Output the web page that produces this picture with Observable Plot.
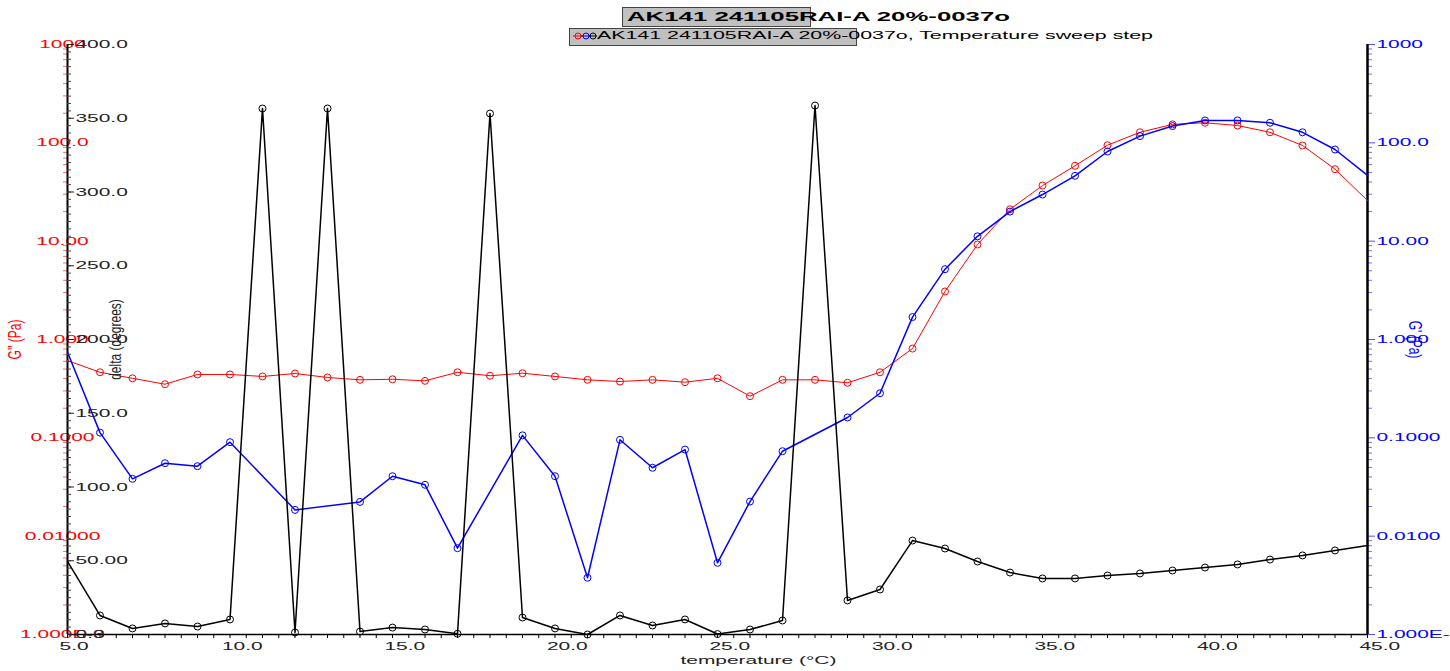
<!DOCTYPE html>
<html><head><meta charset="utf-8">
<script src="https://cdn.jsdelivr.net/npm/d3@7"></script>
<script src="https://cdn.jsdelivr.net/npm/@observablehq/plot@0.6"></script>
<style>
html,body{margin:0;padding:0;background:#fff;overflow:hidden;}
body{width:1450px;height:671px;font-family:"Liberation Sans",Arial,sans-serif;}
#header{position:relative;height:36px;z-index:2;}
#chart{position:relative;width:1450px;height:635px;}
#chart svg{position:absolute;left:0;top:0;}
.box{position:absolute;background:#c0c0c0;border:1px solid #444;box-sizing:border-box;}
.stretch{position:absolute;white-space:nowrap;transform-origin:0 50%;line-height:1;color:#000;}
</style></head>
<body>
<div id="header">
  <div class="box" style="left:622px;top:7px;width:189px;height:20px"></div>
  <div class="box" style="left:569px;top:28px;width:288px;height:18px"></div>
  <div id="title" class="stretch" style="left:627px;top:11px;font-weight:bold;font-size:12px">AK141 241105RAI-A 20%-0037o</div>
  <svg style="position:absolute;left:572px;top:29px" width="26" height="14">
    <line x1="1" x2="11" y1="7" y2="7" stroke="#ff0000"/>
    <circle cx="6" cy="7" r="3" fill="none" stroke="#ff0000"/>
    <line x1="9" x2="18" y1="7" y2="7" stroke="#0000ff"/>
    <circle cx="14" cy="7" r="3" fill="none" stroke="#0000ff"/>
    <line x1="17" x2="25" y1="7" y2="7" stroke="#000"/>
    <circle cx="21" cy="7" r="3" fill="none" stroke="#000"/>
  </svg>
  <div id="legend" class="stretch" style="left:597px;top:31px;font-size:10px">AK141 241105RAI-A 20%-0037o, Temperature sweep step</div>
</div>
<div id="chart"></div>
<script>
// ---- data ----
const temperature = [5,6,7,8,9,10,11,12,13,14,15,16,17,18,19,20,21,22,23,24,25,26,27,28,29,30,31,32,33,34,35,36,37,38,39,40,41,42,43,44,45];
const gDoublePrime = [0.611,0.464,0.403,0.351,0.441,0.441,0.421,0.451,0.411,0.389,0.394,0.380,0.464,0.428,0.454,0.421,0.389,0.374,0.389,0.368,0.403,0.265,0.389,0.389,0.363,0.464,0.809,3.08,9.25,21.1,36.8,58.4,94.6,128,154,160,150,128,94.0,54.0,25.9];
const gPrime = [0.743,0.113,0.0383,0.0552,0.0515,0.0903,null,0.0185,null,0.0223,0.0407,0.0333,0.00755,null,0.106,0.0407,0.00378,0.0955,0.0496,0.0760,0.00536,0.0225,0.0731,null,0.161,0.284,1.69,5.19,11.2,20.0,29.8,46.2,81.6,117,148,169,169,160,128,85.5,46.6];
const delta = [49.5,12.9,4.1,7.5,5.4,10.2,356.6,1.4,356.6,2.0,4.7,3.4,0.5,353.2,11.5,4.1,0.0,12.9,6.1,10.2,0.3,3.4,9.5,358.6,23.1,30.5,63.7,58.3,49.5,42.0,38.0,38.0,40.0,41.4,43.4,45.4,47.5,50.8,53.6,57.0,60.3];

const decades = [0.001,0.01,0.1,1,10,100,1000];
const leftLabels = ["1.000E-3","0.01000","0.1000","1.000","10.00","100.0","1000"];
const rightLabels = ["1.000E-3","0.0100","0.1000","1.000","10.00","100.0","1000"];
const deltaTicks = [0,50,100,150,200,250,300,350,400];
const deltaLabels = ["0.0","50.00","100.0","150.0","200.0","250.0","300.0","350.0","400.0"];
const xTicks = [5,10,15,20,25,30,35,40,45];
const xLabels = ["5.0","10.0","15.0","20.0","25.0","30.0","35.0","40.0","45.0"];

// ---- derived ----
const rows = temperature.map((t,i) => ({t, gpp: gDoublePrime[i], gp: gPrime[i], delta: delta[i]}));
const rowsGp = rows.filter(d => d.gp != null);
const inner = d => d.t > 5 && d.t < 45;
const minorLog = [];
for (let e = -3; e < 3; e++) for (let m = 2; m <= 9; m++) minorLog.push(m * Math.pow(10, e));
const deltaMinor = d3.range(0, 401, 5);
const xMinor = d3.range(5, 45.01, 0.5);

const common = {
  width: 1450, height: 635,
  marginLeft: 67, marginRight: 83, marginTop: 8, marginBottom: 37,
  style: {fontFamily: '"Liberation Sans", Arial, sans-serif', fontSize: "11px", background: "transparent", overflow: "visible"}
};

const plotG = Plot.plot({
  ...common,
  x: {domain: [5, 45]},
  y: {type: "log", domain: [1e-3, 1e3]},
  marks: [
    Plot.axisY(minorLog, {anchor: "left", tickSize: 4, fill: "none", stroke: "#f07070", label: null}),
    Plot.axisY(decades, {anchor: "left", tickSize: 0, tickPadding: 5, textAnchor: "middle", fill: "#ff0000", tickFormat: d => leftLabels[decades.indexOf(d)], label: null}),
    Plot.axisY(minorLog, {anchor: "right", tickSize: 4, fill: "none", stroke: "#7070ff", label: null}),
    Plot.axisY(decades, {anchor: "right", tickSize: 7, tickPadding: 2, textAnchor: "start", fill: "#0000ff", stroke: "#5050ff", tickFormat: d => rightLabels[decades.indexOf(d)], label: null}),
    Plot.axisX(xMinor, {anchor: "bottom", tickSize: 4, fill: "none", stroke: "#000", label: null}),
    Plot.axisX(xTicks, {anchor: "bottom", tickSize: 0, tickPadding: 8, textAnchor: "start", dx: -8, fill: "#222", tickFormat: d => xLabels[xTicks.indexOf(d)], label: null}),
    Plot.ruleX([5], {stroke: "#000", strokeWidth: 2}),
    Plot.ruleX([45], {stroke: "#000", strokeWidth: 2.5}),
    Plot.ruleY([1e-3], {stroke: "#000", strokeWidth: 1.5}),
    Plot.line(rows, {x: "t", y: "gpp", stroke: "#ff0000", strokeWidth: 1}),
    Plot.dot(rows.filter(inner), {x: "t", y: "gpp", r: 3.5, stroke: "#ff0000", strokeWidth: 1}),
    Plot.line(rowsGp, {x: "t", y: "gp", stroke: "#0000ff", strokeWidth: 1.5}),
    Plot.dot(rowsGp.filter(inner), {x: "t", y: "gp", r: 3.5, stroke: "#0000ff", strokeWidth: 1}),
    Plot.text(["G'' (Pa)"], {text: d => d, frameAnchor: "left", textAnchor: "middle", lineAnchor: "middle", rotate: -90, dx: -52, fill: "#ff0000", fontSize: 12}),
    Plot.text(["G' (Pa)"], {text: d => d, frameAnchor: "right", textAnchor: "middle", lineAnchor: "middle", rotate: 90, dx: 47, fill: "#0000ff", fontSize: 12}),
    Plot.text(["temperature (°C)"], {text: d => d, frameAnchor: "bottom", textAnchor: "start", lineAnchor: "middle", dx: -37, dy: 26, fill: "#222", fontSize: 11})
  ]
});

const plotD = Plot.plot({
  ...common,
  x: {domain: [5, 45], axis: null},
  y: {domain: [0, 400]},
  marks: [
    Plot.axisY(deltaMinor, {anchor: "left", tickSize: 4, dx: 4, fill: "none", stroke: "#444", label: null}),
    Plot.axisY(deltaTicks, {anchor: "left", tickSize: 7, dx: 7, fill: "none", stroke: "#222", label: null}),
    Plot.axisY(deltaTicks, {anchor: "left", tickSize: 0, tickPadding: 0, dx: 8, textAnchor: "start", fill: "#222", tickFormat: d => deltaLabels[deltaTicks.indexOf(d)], label: null}),
    Plot.line(rows, {x: "t", y: "delta", stroke: "#000", strokeWidth: 1.5}),
    Plot.dot(rows.filter(inner), {x: "t", y: "delta", r: 3.5, stroke: "#000", strokeWidth: 1}),
    Plot.text(["delta (degrees)"], {text: d => d, frameAnchor: "left", textAnchor: "middle", lineAnchor: "middle", rotate: -90, dx: 48, fill: "#222", fontSize: 12})
  ]
});

const chart = document.getElementById("chart");
chart.appendChild(plotG);
chart.appendChild(plotD);

// horizontal stretch of text, as in the reference rendering
function stretch(svg, f, fr) {
  svg.querySelectorAll("text").forEach(t => {
    const tr = t.getAttribute("transform") || "";
    if (/rotate/.test(tr)) {
      t.setAttribute("transform", tr + ` scale(1,${fr})`);
      return;
    }
    const L = t.getComputedTextLength();
    if (!L) return;
    t.setAttribute("textLength", (L * f).toFixed(1));
    t.setAttribute("lengthAdjust", "spacingAndGlyphs");
  });
}
stretch(plotG, 1.9, 1.5);
stretch(plotD, 1.9, 1.4);

function fit(id, w) {
  const el = document.getElementById(id);
  const n = el.getBoundingClientRect().width;
  el.style.transform = `scaleX(${w / n})`;
}
fit("title", 383);
fit("legend", 556);
</script>
</body></html>
